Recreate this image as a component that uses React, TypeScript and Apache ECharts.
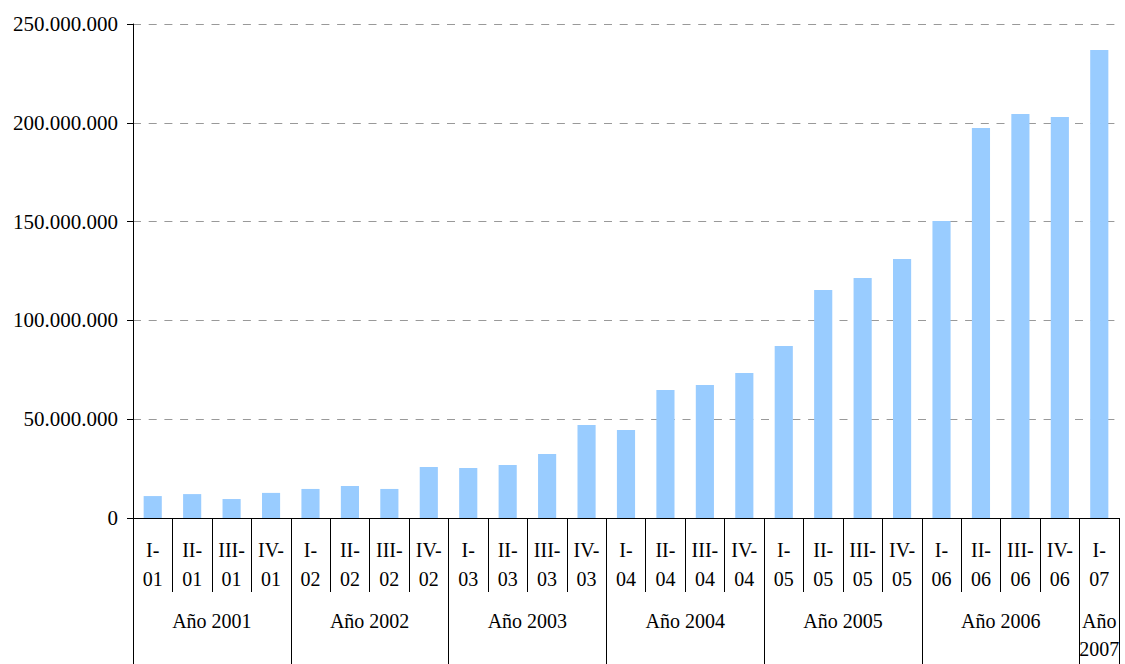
import React, { useEffect, useRef } from "react";
import * as echarts from "echarts";

const categories = [
  "I-01", "II-01", "III-01", "IV-01",
  "I-02", "II-02", "III-02", "IV-02",
  "I-03", "II-03", "III-03", "IV-03",
  "I-04", "II-04", "III-04", "IV-04",
  "I-05", "II-05", "III-05", "IV-05",
  "I-06", "II-06", "III-06", "IV-06",
  "I-07",
];

const values = [
  11100000, 12100000, 9600000, 12700000,
  14700000, 16200000, 14700000, 25800000,
  25300000, 26800000, 32400000, 47100000,
  44500000, 64800000, 67300000, 73400000,
  87000000, 115400000, 121500000, 131100000,
  150300000, 197400000, 204400000, 202900000,
  236800000,
];

const yearLabels = ["Año 2001", "Año 2002", "Año 2003", "Año 2004", "Año 2005", "Año 2006", "Año 2007"];
const yearQuarterCounts = [4, 4, 4, 4, 4, 4, 1];

const yTickLabels = { min: 0, max: 250000000, interval: 50000000 };

const FONT = '"Liberation Serif", "Times New Roman", serif';

function formatThousands(v: number): string {
  return String(Math.round(v)).replace(/\B(?=(\d{3})+(?!\d))/g, ".");
}

// Half-cell resolution axis for the year row: 2*N+1 points.
function buildYearAxis() {
  const n = categories.length;
  const points: string[] = new Array(2 * n + 1).fill("");
  const boundaries = new Set<number>();
  let start = 0;
  boundaries.add(0);
  yearQuarterCounts.forEach((count, i) => {
    const center = start * 2 + count; // in half-cell units
    const label = count === 1 ? yearLabels[i].replace(" ", "\n") : yearLabels[i];
    points[center] = label;
    start += count;
    boundaries.add(start * 2);
  });
  return { points, boundaries };
}

export default function App() {
  const ref = useRef<HTMLDivElement>(null);

  useEffect(() => {
    if (!ref.current) return;
    const chart = echarts.init(ref.current, null, { renderer: "svg" });
    const { points, boundaries } = buildYearAxis();

    chart.setOption({
      animation: false,
      backgroundColor: "#ffffff",
      grid: { left: 133, right: 6, top: 24, bottom: 146, containLabel: false },
      xAxis: [
        {
          type: "category",
          data: categories.map((c) => c.replace("-", "-\n")),
          position: "bottom",
          boundaryGap: true,
          axisLine: { show: true, lineStyle: { color: "#000", width: 1 } },
          axisTick: { show: true, interval: 0, length: 74, lineStyle: { color: "#000", width: 1 } },
          axisLabel: {
            interval: 0,
            margin: 17,
            color: "#000",
            fontFamily: FONT,
            fontSize: 20,
            lineHeight: 29,
          },
          splitLine: { show: false },
        },
        {
          type: "category",
          data: points,
          position: "bottom",
          offset: 0,
          boundaryGap: false,
          axisLine: { show: false },
          axisTick: {
            show: true,
            interval: (index: number) => boundaries.has(index),
            length: 146,
            lineStyle: { color: "#000", width: 1 },
          },
          axisLabel: {
            interval: (index: number, value: string) => value !== "",
            margin: 89,
            color: "#000",
            fontFamily: FONT,
            fontSize: 20,
            lineHeight: 28,
          },
          splitLine: { show: false },
        },
      ],
      yAxis: {
        type: "value",
        min: yTickLabels.min,
        max: yTickLabels.max,
        interval: yTickLabels.interval,
        axisLine: { show: true, lineStyle: { color: "#000", width: 1 } },
        axisTick: { show: true, length: 6, lineStyle: { color: "#000" } },
        axisLabel: {
          margin: 15,
          color: "#000",
          fontFamily: FONT,
          fontSize: 21,
          formatter: (v: number) => formatThousands(v),
        },
        splitLine: {
          show: true,
          lineStyle: { color: "#999", width: 1, type: [8, 7.7] },
        },
      },
      series: [
        {
          type: "bar",
          xAxisIndex: 0,
          data: values,
          barCategoryGap: "54%",
          itemStyle: { color: "#99CCFF" },
        },
      ],
    });

    return () => chart.dispose();
  }, []);

  return (
    <div
      ref={ref}
      style={{ position: "fixed", left: 0, top: 0, width: 1125, height: 664, background: "#fff" }}
    />
  );
}
